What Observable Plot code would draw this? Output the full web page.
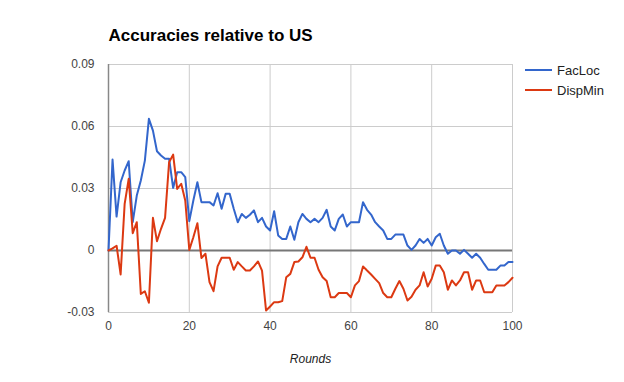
<!DOCTYPE html>
<html>
<head>
<meta charset="utf-8">
<script src="https://cdn.jsdelivr.net/npm/d3@7"></script>
<script src="https://cdn.jsdelivr.net/npm/@observablehq/plot@0.6"></script>
<style>
  body { margin: 0; background: #fff; }
  #wrap { position: relative; width: 624px; height: 382px; font-family: Arial, "Liberation Sans", sans-serif; }
  #legend { position: absolute; left: 525px; top: 60px; font-size: 13px; color: #222; }
  .item { display: flex; align-items: center; height: 20px; }
  .swatch { width: 27px; height: 2px; margin-right: 5px; }
</style>
</head>
<body>
<div id="wrap"></div>
<script>
const title = "Accuracies relative to US";
const xLabel = "Rounds";
const seriesNames = ["FacLoc", "DispMin"];
const seriesColors = ["#3366cc", "#dc3912"];
const xTicks = [0, 20, 40, 60, 80, 100];
const yTicks = [-0.03, 0, 0.03, 0.06, 0.09];
const yTickLabels = ["-0.03", "0", "0.03", "0.06", "0.09"];

const facLoc = [
  0, 0.044, 0.0164, 0.033, 0.0387, 0.0432, 0.0137, 0.0266, 0.0339, 0.0435,
  0.0637, 0.058, 0.048, 0.046, 0.0444, 0.0444, 0.0303, 0.0379, 0.0379, 0.0355,
  0.0142, 0.0242, 0.033, 0.0234, 0.0234, 0.0234, 0.0218, 0.0277, 0.0202, 0.0274,
  0.0274, 0.0202, 0.0137, 0.0177, 0.0158, 0.0173, 0.0194, 0.0137, 0.0158, 0.0116,
  0.0097, 0.019, 0.0073, 0.0056, 0.0056, 0.0116, 0.0052, 0.0137, 0.0177, 0.0153,
  0.0137, 0.0153, 0.0137, 0.0158, 0.0197, 0.0116, 0.0097, 0.0153, 0.0174, 0.0116,
  0.0137, 0.0137, 0.0137, 0.0234, 0.0197, 0.0174, 0.0137, 0.0116, 0.0097, 0.0056,
  0.0056, 0.0077, 0.0077, 0.0077, 0.0024, 0.0003, 0.0024, 0.0056, 0.0037, 0.0056,
  0.0024, 0.0064, 0.0081, 0.0024, -0.0016, 0, 0, -0.0016, 0.0003, -0.0016,
  -0.0035, -0.0016, -0.0035, -0.0065, -0.0093, -0.0093, -0.0093, -0.0073, -0.0073, -0.0056,
  -0.0056
];
const dispMin = [
  0, 0.001, 0.0023, -0.0116, 0.0226, 0.0347, 0.0084, 0.0137, -0.021, -0.0197,
  -0.0253, 0.0158, 0.0045, 0.0105, 0.0158, 0.0427, 0.0464, 0.0298, 0.0323, 0.0242,
  0.0003, 0.0064, 0.0132, -0.0036, -0.0016, -0.0153, -0.0197, -0.0077, -0.0035, -0.0035,
  -0.0035, -0.0093, -0.0056, -0.0077, -0.0097, -0.0097, -0.0077, -0.0053, -0.0097, -0.029,
  -0.0271, -0.025, -0.025, -0.0245, -0.0129, -0.0113, -0.0056, -0.0053, -0.0033, 0.0018,
  -0.0035, -0.0035, -0.0093, -0.0129, -0.0148, -0.0226, -0.0226, -0.0206, -0.0206, -0.0206,
  -0.0226, -0.0169, -0.0148, -0.0077, -0.0097, -0.0116, -0.0137, -0.0158, -0.0206, -0.0226,
  -0.0226, -0.0185, -0.0148, -0.0185, -0.0242, -0.0224, -0.019, -0.0169, -0.0105, -0.0174,
  -0.0137, -0.0073, -0.0073, -0.0105, -0.019, -0.0145, -0.0169, -0.0145, -0.0105, -0.0105,
  -0.019, -0.0145, -0.0145, -0.0202, -0.0202, -0.0202, -0.0169, -0.0169, -0.0169, -0.0153,
  -0.0132
];

const rows = [];
[facLoc, dispMin].forEach((vals, s) => {
  vals.forEach((v, i) => rows.push({round: i, value: v, series: seriesNames[s]}));
});

const chart = Plot.plot({
  width: 624,
  height: 382,
  marginLeft: 108,
  marginRight: 112,
  marginTop: 64,
  marginBottom: 70,
  style: {fontFamily: 'Arial, "Liberation Sans", sans-serif', fontSize: "12px", color: "#444", background: "#fff"},
  x: {domain: [0, 100]},
  y: {domain: [-0.03, 0.09]},
  color: {domain: seriesNames, range: seriesColors},
  marks: [
    Plot.gridX(xTicks.filter(d => d !== 0), {stroke: "#cccccc", strokeOpacity: 1}),
    Plot.gridY(yTicks.filter(d => d !== 0), {stroke: "#cccccc", strokeOpacity: 1}),
    Plot.ruleX([0], {stroke: "#888", strokeWidth: 1.5}),
    Plot.ruleY([0], {stroke: "#777", strokeWidth: 2}),
    Plot.line(rows, {x: "round", y: "value", z: "series", stroke: "series", strokeWidth: 2, strokeLinejoin: "round"}),
    Plot.axisY(yTicks, {tickSize: 0, tickPadding: 14, tickFormat: (d) => yTickLabels[yTicks.indexOf(d)], label: null, fill: "#444"}),
    Plot.axisX(xTicks, {tickSize: 0, tickPadding: 9, label: null, fill: "#444"}),
    Plot.text([xLabel], {frameAnchor: "bottom", dy: 50, fontStyle: "italic", fill: "#222", fontSize: 12}),
    Plot.text([title], {frameAnchor: "top-left", dy: -29, textAnchor: "start", lineAnchor: "middle", fontWeight: "bold", fontSize: 17, fill: "#000"})
  ]
});
const wrap = document.getElementById("wrap");
wrap.appendChild(chart);

const legend = document.createElement("div");
legend.id = "legend";
seriesNames.forEach((name, i) => {
  const item = document.createElement("div");
  item.className = "item";
  const sw = document.createElement("span");
  sw.className = "swatch";
  sw.style.background = seriesColors[i];
  const t = document.createElement("span");
  t.textContent = name;
  item.appendChild(sw);
  item.appendChild(t);
  legend.appendChild(item);
});
wrap.appendChild(legend);
</script>
</body>
</html>
